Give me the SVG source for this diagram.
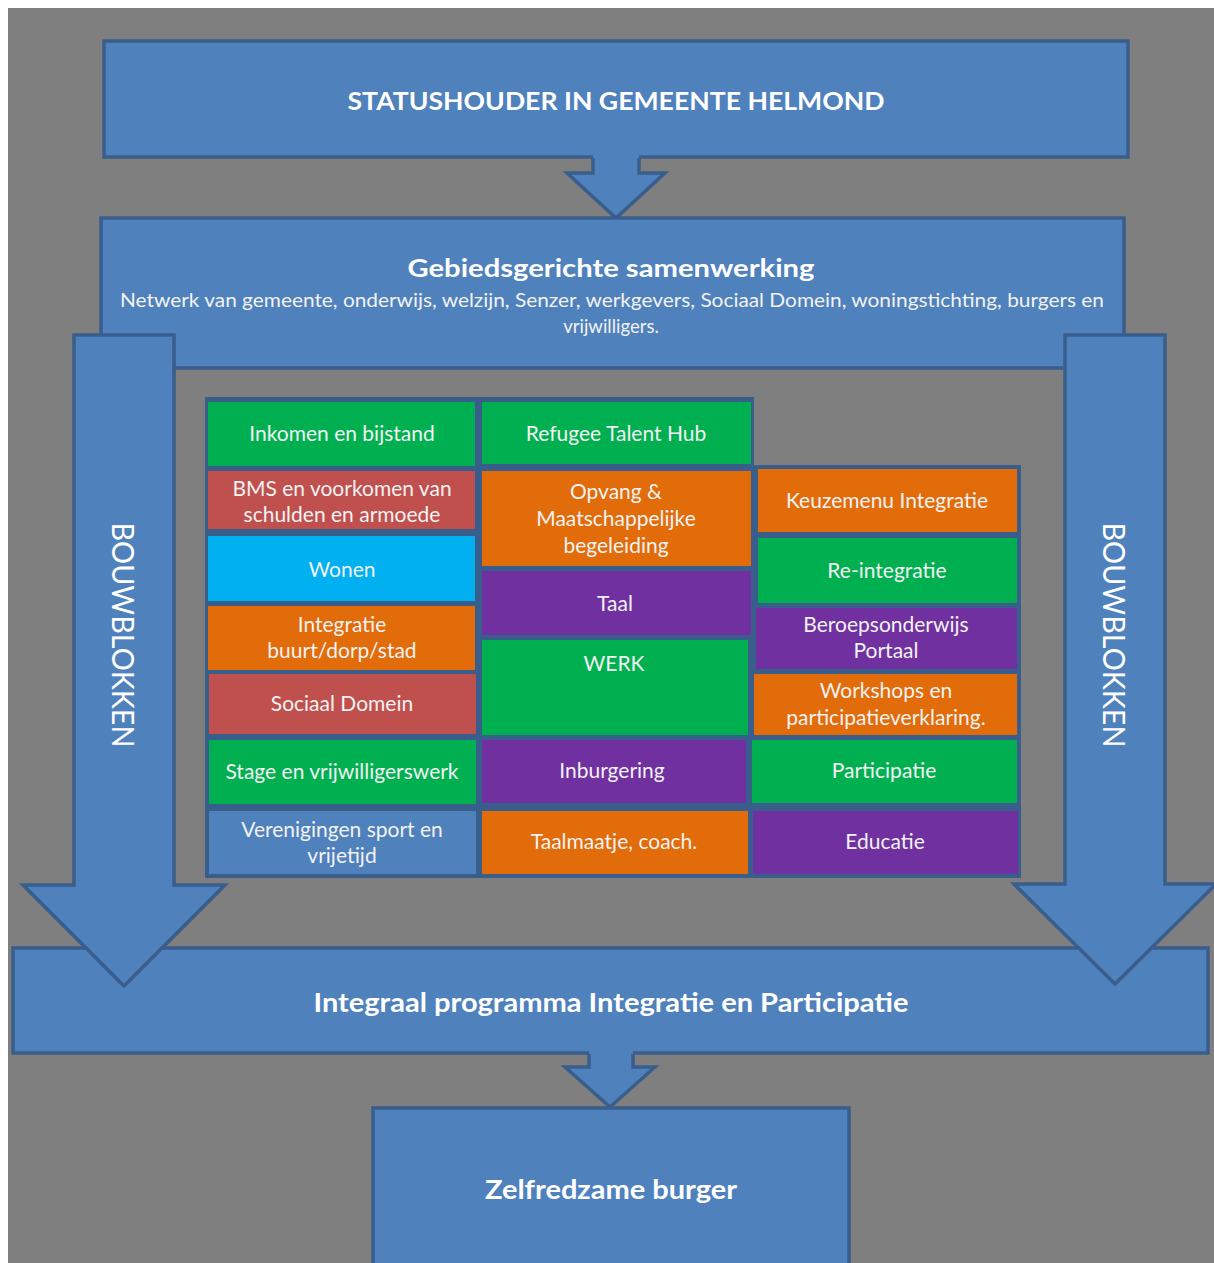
<svg xmlns="http://www.w3.org/2000/svg" width="1214" height="1263" viewBox="0 0 1214 1263">
<style>
.blk{fill:#4F81BD;stroke:#3A5E8C;stroke-width:3.5;stroke-linejoin:miter}
.fillonly{fill:#4F81BD;stroke:none}
.edge{fill:none;stroke:#3A5E8C;stroke-width:3.5}
.hd{font-family:Lato,"Liberation Sans",sans-serif;font-weight:bold;fill:#FFFFFF;text-anchor:middle}
.sub{font-family:Lato,"Liberation Sans",sans-serif;fill:#F2F2F2;text-anchor:middle;font-size:18.5px}
.vt{font-family:Lato,"Liberation Sans",sans-serif;fill:#FFFFFF;text-anchor:middle;font-size:30px}
.ct{font-family:Lato,"Liberation Sans",sans-serif;fill:#F2F2F2;text-anchor:middle;font-size:21px}
.g{fill:#00B050}.r{fill:#C0504D}.c{fill:#00B0F0}.o{fill:#E36C0A}.p{fill:#7030A0}.b{fill:#4F81BD}
</style>
<rect x="0" y="0" width="1214" height="1263" fill="#FFFFFF"/>
<rect x="8" y="8" width="1206" height="1255" fill="#7F7F7F"/>

<g id="statushouder">
<rect class="blk" x="104" y="41" width="1024" height="116"/>
<text class="hd" x="616" y="110" font-size="24" textLength="537" lengthAdjust="spacingAndGlyphs">STATUSHOUDER IN GEMEENTE HELMOND</text>
</g>

<g id="connectors">
<polygon class="fillonly" points="593,150 639,150 639,173 665,173 616,218 567,173 593,173"/>
<polyline class="edge" points="593,158 593,173 567,173 616,218 665,173 639,173 639,158"/>
</g>

<g id="gebiedsgericht">
<rect class="blk" x="101" y="218" width="1023" height="150"/>
<text class="hd" x="611" y="277" font-size="25" textLength="407" lengthAdjust="spacingAndGlyphs">Gebiedsgerichte samenwerking</text>
<text class="sub" x="612" y="307" textLength="984" lengthAdjust="spacingAndGlyphs">Netwerk van gemeente, onderwijs, welzijn, Senzer, werkgevers, Sociaal Domein, woningstichting, burgers en</text>
<text class="sub" x="611" y="333">vrijwilligers.</text>
</g>

<g id="integraal">
<rect class="blk" x="13" y="948" width="1195" height="105"/>
<text class="hd" x="611" y="1012" font-size="26" textLength="595" lengthAdjust="spacingAndGlyphs">Integraal programma Integratie en Participatie</text>
</g>

<g id="bouwblokken-links">
<polygon class="blk" points="74,335 174,335 174,885 225,885 124,986 23,885 74,885"/>
<text class="vt" transform="translate(112,635) rotate(90)" textLength="225" lengthAdjust="spacingAndGlyphs">BOUWBLOKKEN</text>
</g>

<g id="bouwblokken-rechts">
<polygon class="blk" points="1065,335 1165,335 1165,884 1216,884 1115,984 1014,884 1065,884"/>
<text class="vt" transform="translate(1103,635) rotate(90)" textLength="225" lengthAdjust="spacingAndGlyphs">BOUWBLOKKEN</text>
</g>

<g id="raster">
<polygon fill="#3A5E8C" points="205,397 754,397 754,465 1021,465 1021,878 205,878"/>
</g>

<g id="inkomen"><rect class="g" x="208" y="402" width="267" height="64"/><text class="ct" x="342" y="441">Inkomen en bijstand</text></g>
<g id="refugee"><rect class="g" x="482" y="402" width="269" height="62"/><text class="ct" x="616" y="441">Refugee Talent Hub</text></g>
<g id="bms"><rect class="r" x="208" y="471" width="267" height="58"/><text class="ct" x="342" y="496">BMS en voorkomen van</text><text class="ct" x="342" y="522">schulden en armoede</text></g>
<g id="opvang"><rect class="o" x="482" y="471" width="269" height="95"/><text class="ct" x="616" y="499">Opvang &amp;</text><text class="ct" x="616" y="526">Maatschappelijke</text><text class="ct" x="616" y="553">begeleiding</text></g>
<g id="keuzemenu"><rect class="o" x="758" y="469" width="259" height="63"/><text class="ct" x="887" y="508">Keuzemenu Integratie</text></g>
<g id="wonen"><rect class="c" x="208" y="536" width="267" height="65"/><text class="ct" x="342" y="577">Wonen</text></g>
<g id="reintegratie"><rect class="g" x="758" y="538" width="259" height="65"/><text class="ct" x="887" y="578">Re-integratie</text></g>
<g id="taal"><rect class="p" x="482" y="571" width="269" height="64"/><text class="ct" x="615" y="611">Taal</text></g>
<g id="integratie-buurt"><rect class="o" x="208" y="606" width="267" height="64"/><text class="ct" x="342" y="632">Integratie</text><text class="ct" x="342" y="658">buurt/dorp/stad</text></g>
<g id="beroepsonderwijs"><rect class="p" x="756" y="608" width="261" height="61"/><text class="ct" x="886" y="632">Beroepsonderwijs</text><text class="ct" x="886" y="658">Portaal</text></g>
<g id="werk"><rect class="g" x="482" y="640" width="266" height="95"/><text class="ct" x="614" y="671">WERK</text></g>
<g id="sociaal-domein"><rect class="r" x="209" y="674" width="267" height="60"/><text class="ct" x="342" y="711">Sociaal Domein</text></g>
<g id="workshops"><rect class="o" x="754" y="674" width="263" height="61"/><text class="ct" x="886" y="698">Workshops en</text><text class="ct" x="886" y="725">participatieverklaring.</text></g>
<g id="stage"><rect class="g" x="209" y="740" width="267" height="64"/><text class="ct" x="342" y="779">Stage en vrijwilligerswerk</text></g>
<g id="inburgering"><rect class="p" x="482" y="740" width="264" height="63"/><text class="ct" x="612" y="778">Inburgering</text></g>
<g id="participatie"><rect class="g" x="752" y="740" width="265" height="63"/><text class="ct" x="884" y="778">Participatie</text></g>
<g id="verenigingen"><rect class="b" x="209" y="811" width="267" height="63"/><text class="ct" x="342" y="837">Verenigingen sport en</text><text class="ct" x="342" y="863">vrijetijd</text></g>
<g id="taalmaatje"><rect class="o" x="482" y="811" width="266" height="63"/><text class="ct" x="614" y="849">Taalmaatje, coach.</text></g>
<g id="educatie"><rect class="p" x="753" y="811" width="265" height="63"/><text class="ct" x="885" y="849">Educatie</text></g>

<g id="connectors-bottom">
<polygon class="fillonly" points="589,1050 633,1050 633,1067 655,1067 610,1107 565,1067 589,1067"/>
<polyline class="edge" points="589,1054 589,1067 565,1067 610,1107 655,1067 633,1067 633,1054"/>
</g>

<g id="zelfredzaam">
<rect class="blk" x="373" y="1108" width="476" height="170"/>
<text class="hd" x="611" y="1199" font-size="26" textLength="252" lengthAdjust="spacingAndGlyphs">Zelfredzame burger</text>
</g>
</svg>
